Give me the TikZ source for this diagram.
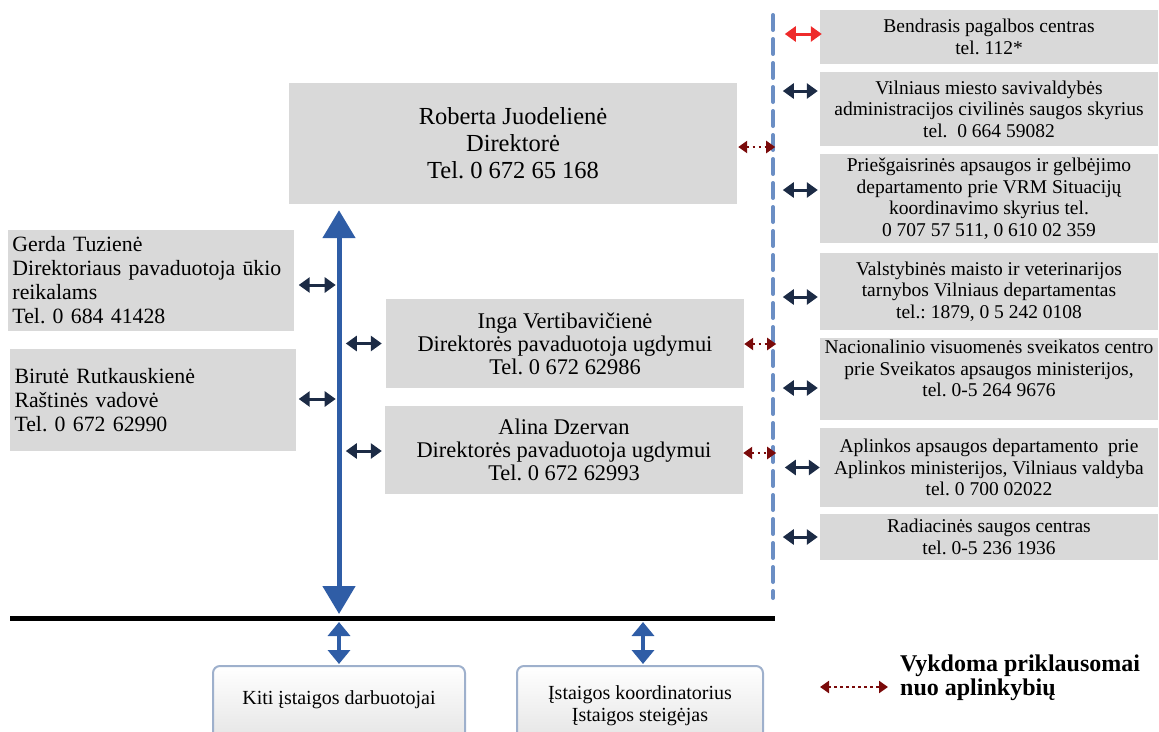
\documentclass[tikz,border=0pt]{standalone}
\usepackage{fontspec}
\setmainfont{Liberation Serif}
\usetikzlibrary{arrows.meta,calc,shadings}
\definecolor{boxgray}{HTML}{D9D9D9}
\definecolor{navy}{HTML}{1C2B45}
\definecolor{arrowblue}{HTML}{2F5DA6}
\definecolor{dashblue}{HTML}{6B8EC4}
\definecolor{darkred}{HTML}{7A0A0A}
\definecolor{brightred}{HTML}{EE2B2B}
\definecolor{boxborder}{HTML}{9EB0CC}
\frenchspacing
\begin{document}
\begin{tikzpicture}[x=1pt,y=-1pt,
  graybox/.style={fill=boxgray, draw=none, inner sep=0pt, align=center},
  rfont/.style={font=\fontsize{19.5}{21.5}\selectfont},
  lbox/.style={graybox, align=left, text width=276pt, inner xsep=5pt, inner ysep=0pt, font=\fontsize{21.8}{24}\selectfont},
  mbox/.style={graybox, minimum width=358pt, font=\fontsize{22.4}{23}\selectfont},
  navyarr/.style={draw=navy, line width=3pt, {Triangle[length=11pt,width=15pt]}-{Triangle[length=11pt,width=15pt]}},
  redarr/.style={draw=brightred, line width=3pt, {Triangle[length=11pt,width=15pt]}-{Triangle[length=11pt,width=15pt]}},
  dotarr/.style={draw=darkred, line width=2.5pt, dash pattern=on 2.5pt off 3.5pt, {Triangle[length=9pt,width=12pt]}-{Triangle[length=9pt,width=12pt]}},
  bigarr/.style={draw=arrowblue, line width=5pt, {Triangle[length=28pt,width=32pt]}-{Triangle[length=28pt,width=32pt]}},
  smallblue/.style={draw=arrowblue, line width=4pt, {Triangle[length=14pt,width=22pt]}-{Triangle[length=14pt,width=22pt]}},
  dashline/.style={draw=dashblue, line width=4pt, line cap=round, dash pattern=on 15pt off 9pt},
  bottombox/.style={rounded corners=7pt, draw=boxborder, line width=2pt, top color=white, bottom color=gray!22, minimum height=80pt, inner sep=0pt, align=center, font=\fontsize{20}{22}\selectfont}
]
\useasboundingbox (0,0) rectangle (1159,731);
\clip (0,0) rectangle (1159,731);

% coordinates of lines
\coordinate (dtop) at (773,15);
\coordinate (dbot) at (773,598);
\coordinate (bl1) at (10,618);
\coordinate (bl2) at (775,618);

% right column
\node[graybox, rfont, minimum width=338pt, minimum height=54pt] (r1) at (989,37) {Bendrasis pagalbos centras\\tel. 112*};
\node[graybox, rfont, minimum width=338pt, minimum height=74pt] (r2) at (989,109) {Vilniaus miesto savivaldybės\\administracijos civilinės saugos skyrius\\tel.\ \ 0 664 59082};
\node[graybox, rfont, minimum width=338pt, minimum height=89pt] (r3) at (989,198.5) {Priešgaisrinės apsaugos ir gelbėjimo\\departamento prie VRM Situacijų\\koordinavimo skyrius tel.\\0 707 57 511, 0 610 02 359};
\node[graybox, rfont, minimum width=338pt, minimum height=77pt] (r4) at (989,291.5) {Valstybinės maisto ir veterinarijos\\tarnybos Vilniaus departamentas\\tel.: 1879, 0 5 242 0108};
\node[graybox, rfont, minimum width=338pt, minimum height=82pt] (r5) at (989,379) {Nacionalinio visuomenės sveikatos centro\\prie Sveikatos apsaugos ministerijos,\\tel. 0-5 264 9676\\\mbox{}};
\node[graybox, rfont, minimum width=338pt, minimum height=79pt] (r6) at (989,467.5) {Aplinkos apsaugos departamento\ \ prie\\Aplinkos ministerijos, Vilniaus valdyba\\tel. 0 700 02022};
\node[graybox, rfont, minimum width=338pt, minimum height=46pt] (r7) at (989,537) {Radiacinės saugos centras\\tel. 0-5 236 1936};

% director
\node[graybox, minimum width=448pt, minimum height=121pt, font=\fontsize{24.5}{27}\selectfont] (dir) at (513,143.5) {Roberta Juodelienė\\Direktorė\\Tel. 0 672 65 168};

% left boxes
\node[lbox, minimum height=101pt] (gerda) at (150.5,280.5) {Gerda Tuzienė\\Direktoriaus pavaduotoja ūkio\\reikalams\\Tel. 0 684 41428};
\node[lbox, minimum height=102pt] (birute) at (152.5,400) {Birutė Rutkauskienė\\Raštinės vadovė\\Tel. 0 672 62990};

% middle boxes
\node[mbox, minimum height=89pt] (inga) at (565,343.5) {Inga Vertibavičienė\\Direktorės pavaduotoja ugdymui\\Tel. 0 672 62986};
\node[mbox, minimum height=88pt] (alina) at (564,450) {Alina Dzervan\\Direktorės pavaduotoja ugdymui\\Tel. 0 672 62993};

% bottom boxes
\node[bottombox, minimum width=252pt] (kiti) at (339,706) {Kiti įstaigos darbuotojai\\[-6pt]\mbox{}};
\node[bottombox, minimum width=246pt] (koord) at (640,706) {Įstaigos koordinatorius\\Įstaigos steigėjas};

% dashed line and black line
\draw[dashline] (dtop) -- (dbot);
\draw[line width=5pt] (bl1) -- (bl2);

% big blue arrow
\draw[bigarr] ([yshift=-6pt]dir.south -| kiti.north) -- ([yshift=4pt]kiti.north |- bl1);

% bottom small arrows
\draw[smallblue] ([yshift=-4pt]kiti.north |- bl1) -- ([yshift=1pt]kiti.north);
\draw[smallblue] ([xshift=3pt,yshift=-4pt]koord.north |- bl1) -- ([xshift=3pt,yshift=1pt]koord.north);

% left arrows
\draw[navyarr] ([yshift=-4.5pt,xshift=5pt]gerda.east) -- ([yshift=-4.5pt,xshift=42pt]gerda.east);
\draw[navyarr] ([yshift=1pt,xshift=3pt]birute.east) -- ([yshift=1pt,xshift=40pt]birute.east);

% middle arrows
\draw[navyarr] ([xshift=-40pt]inga.west) -- ([xshift=-4pt]inga.west);
\draw[navyarr] ([xshift=-39pt,yshift=-1pt]alina.west) -- ([xshift=-3pt,yshift=-1pt]alina.west);

% dotted red arrows
\draw[dotarr] ([xshift=1pt,yshift=-3.5pt]dir.east) -- ([xshift=38pt,yshift=-3.5pt]dir.east);
\draw[dotarr] ([xshift=0pt,yshift=-0.5pt]inga.east) -- ([xshift=32pt,yshift=-0.5pt]inga.east);
\draw[dotarr] ([xshift=0pt,yshift=-3pt]alina.east) -- ([xshift=33pt,yshift=-3pt]alina.east);

% right arrows
\draw[redarr] ([xshift=-35pt,yshift=3pt]r1.west) -- ([xshift=2pt,yshift=3pt]r1.west);
\draw[navyarr] ([xshift=-37pt,yshift=18pt]r2.west) -- ([xshift=-2pt,yshift=18pt]r2.west);
\draw[navyarr] ([xshift=-37pt,yshift=8.5pt]r3.west) -- ([xshift=-2pt,yshift=8.5pt]r3.west);
\draw[navyarr] ([xshift=-37pt,yshift=-5.5pt]r4.west) -- ([xshift=-2pt,yshift=-5.5pt]r4.west);
\draw[navyarr] ([xshift=-37pt,yshift=-9pt]r5.west) -- ([xshift=-2pt,yshift=-9pt]r5.west);
\draw[navyarr] ([xshift=-35pt,yshift=0pt]r6.west) -- ([xshift=0pt,yshift=0pt]r6.west);
\draw[navyarr] ([xshift=-37pt]r7.west) -- ([xshift=-2pt]r7.west);

% legend
\coordinate (leg1) at (820,687);
\coordinate (leg2) at (888,687);
\draw[dotarr] (leg1) -- (leg2);
\node[anchor=west, align=left, inner sep=0pt, font=\bfseries\fontsize{24}{24}\selectfont] (legtext) at (900,678) {Vykdoma priklausomai\\nuo aplinkybių};
\end{tikzpicture}
\end{document}
